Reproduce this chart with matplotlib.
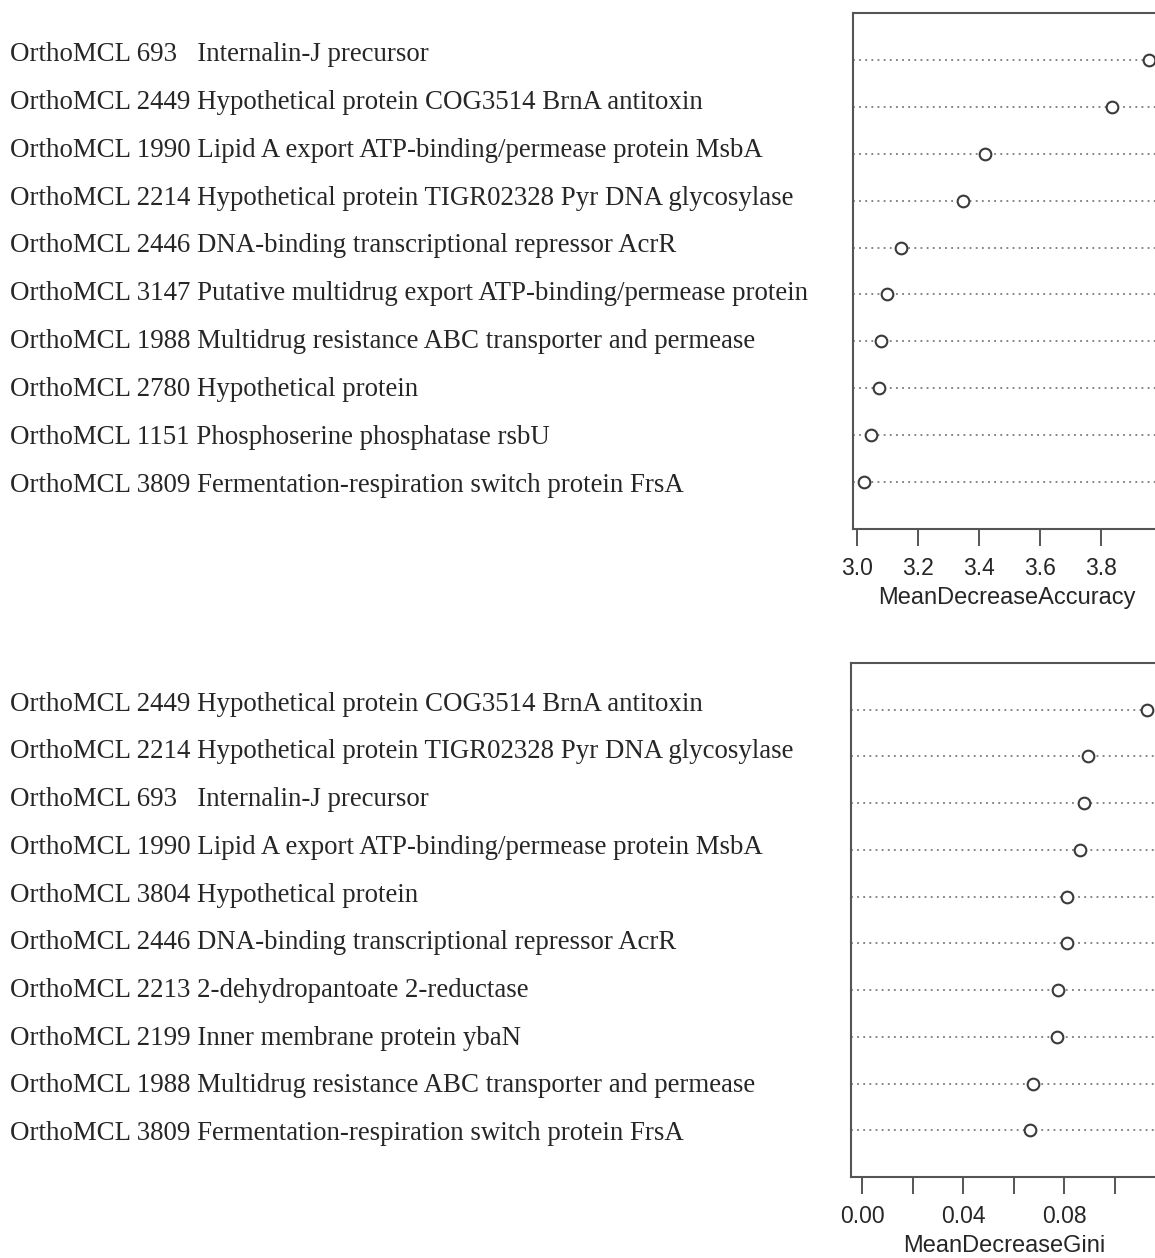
import matplotlib
matplotlib.use("Agg")
import matplotlib.pyplot as plt
import matplotlib.transforms as mtransforms

# Variable importance from a random forest: top 10 orthologous groups per measure
acc_labels = [
    "OrthoMCL 693   Internalin-J precursor",
    "OrthoMCL 2449 Hypothetical protein COG3514 BrnA antitoxin",
    "OrthoMCL 1990 Lipid A export ATP-binding/permease protein MsbA",
    "OrthoMCL 2214 Hypothetical protein TIGR02328 Pyr DNA glycosylase",
    "OrthoMCL 2446 DNA-binding transcriptional repressor AcrR",
    "OrthoMCL 3147 Putative multidrug export ATP-binding/permease protein",
    "OrthoMCL 1988 Multidrug resistance ABC transporter and permease",
    "OrthoMCL 2780 Hypothetical protein",
    "OrthoMCL 1151 Phosphoserine phosphatase rsbU",
    "OrthoMCL 3809 Fermentation-respiration switch protein FrsA",
]
acc_values = [3.957, 3.837, 3.421, 3.347, 3.144, 3.098, 3.079, 3.073, 3.047, 3.024]
acc_ticks = [3.0, 3.2, 3.4, 3.6, 3.8]
acc_ticklabels = ["3.0", "3.2", "3.4", "3.6", "3.8"]

gini_labels = [
    "OrthoMCL 2449 Hypothetical protein COG3514 BrnA antitoxin",
    "OrthoMCL 2214 Hypothetical protein TIGR02328 Pyr DNA glycosylase",
    "OrthoMCL 693   Internalin-J precursor",
    "OrthoMCL 1990 Lipid A export ATP-binding/permease protein MsbA",
    "OrthoMCL 3804 Hypothetical protein",
    "OrthoMCL 2446 DNA-binding transcriptional repressor AcrR",
    "OrthoMCL 2213 2-dehydropantoate 2-reductase",
    "OrthoMCL 2199 Inner membrane protein ybaN",
    "OrthoMCL 1988 Multidrug resistance ABC transporter and permease",
    "OrthoMCL 3809 Fermentation-respiration switch protein FrsA",
]
gini_values = [0.1126, 0.0895, 0.0877, 0.0863, 0.0812, 0.0812, 0.0773, 0.0772, 0.0677, 0.0665]
gini_ticks = [0.00, 0.02, 0.04, 0.06, 0.08, 0.10]
gini_ticklabels = ["0.00", "", "0.04", "", "0.08", ""]

W, H = 1155, 1258
DPI = 100
fig = plt.figure(figsize=(W / DPI, H / DPI), dpi=DPI)
fig.patch.set_facecolor("white")

FRAME = "#555555"
TEXT = "#262626"

# the label column is set on a slightly wider line pitch than the dot rows
LABEL_START = 0.117  # offset of the first label above its row, in row units
LABEL_PITCH = 1.021  # label spacing, in row units


def px_axes(left, top, right, bottom):
    return fig.add_axes([left / W, 1 - bottom / H, (right - left) / W, (bottom - top) / H])


def dot_panel(ax, labels, values, ticks, ticklabels, xlabel, xmin):
    n = len(values)
    lo = xmin
    hi = max(values)
    pad = 0.04 * (hi - lo)
    ax.set_xlim(lo - pad, hi + pad)
    ax.set_ylim(0, n + 1)
    ys = [n - i for i in range(n)]
    for y in ys:
        ax.axhline(y, color="#7a7a7a", lw=1.3, linestyle=(0, (1, 2.4)), zorder=1)
    ax.plot(values, ys, linestyle="none", marker="o", ms=8.4, mfc="white",
            mec="#3a3a3a", mew=1.5, zorder=3, clip_on=False)
    ax.set_yticks([])
    ax.set_xticks(ticks)
    ax.set_xticklabels(ticklabels, fontsize=16.5, color=TEXT, family="Liberation Sans")
    ax.tick_params(axis="x", direction="out", length=12, width=1.4, color=FRAME, pad=8)
    ax.set_xlabel(xlabel, fontsize=17, color=TEXT, family="Liberation Sans", labelpad=5)
    for s in ax.spines.values():
        s.set_color(FRAME)
        s.set_linewidth(1.5)
    trans = mtransforms.blended_transform_factory(fig.transFigure, ax.transData)
    for i, lab in enumerate(labels):
        ly = n + LABEL_START - i * LABEL_PITCH
        ax.text(10 / W, ly, lab, transform=trans, ha="left", va="center",
                fontsize=19.4, family="Liberation Serif", color=TEXT, clip_on=False)


ax1 = px_axes(853, 13, 1160, 529)
dot_panel(ax1, acc_labels, acc_values, acc_ticks, acc_ticklabels,
          "MeanDecreaseAccuracy", min(acc_values))

ax2 = px_axes(851, 663, 1158, 1177)
dot_panel(ax2, gini_labels, gini_values, gini_ticks, gini_ticklabels,
          "MeanDecreaseGini", 0.0)

fig.savefig("out.png", dpi=DPI, facecolor="white")
